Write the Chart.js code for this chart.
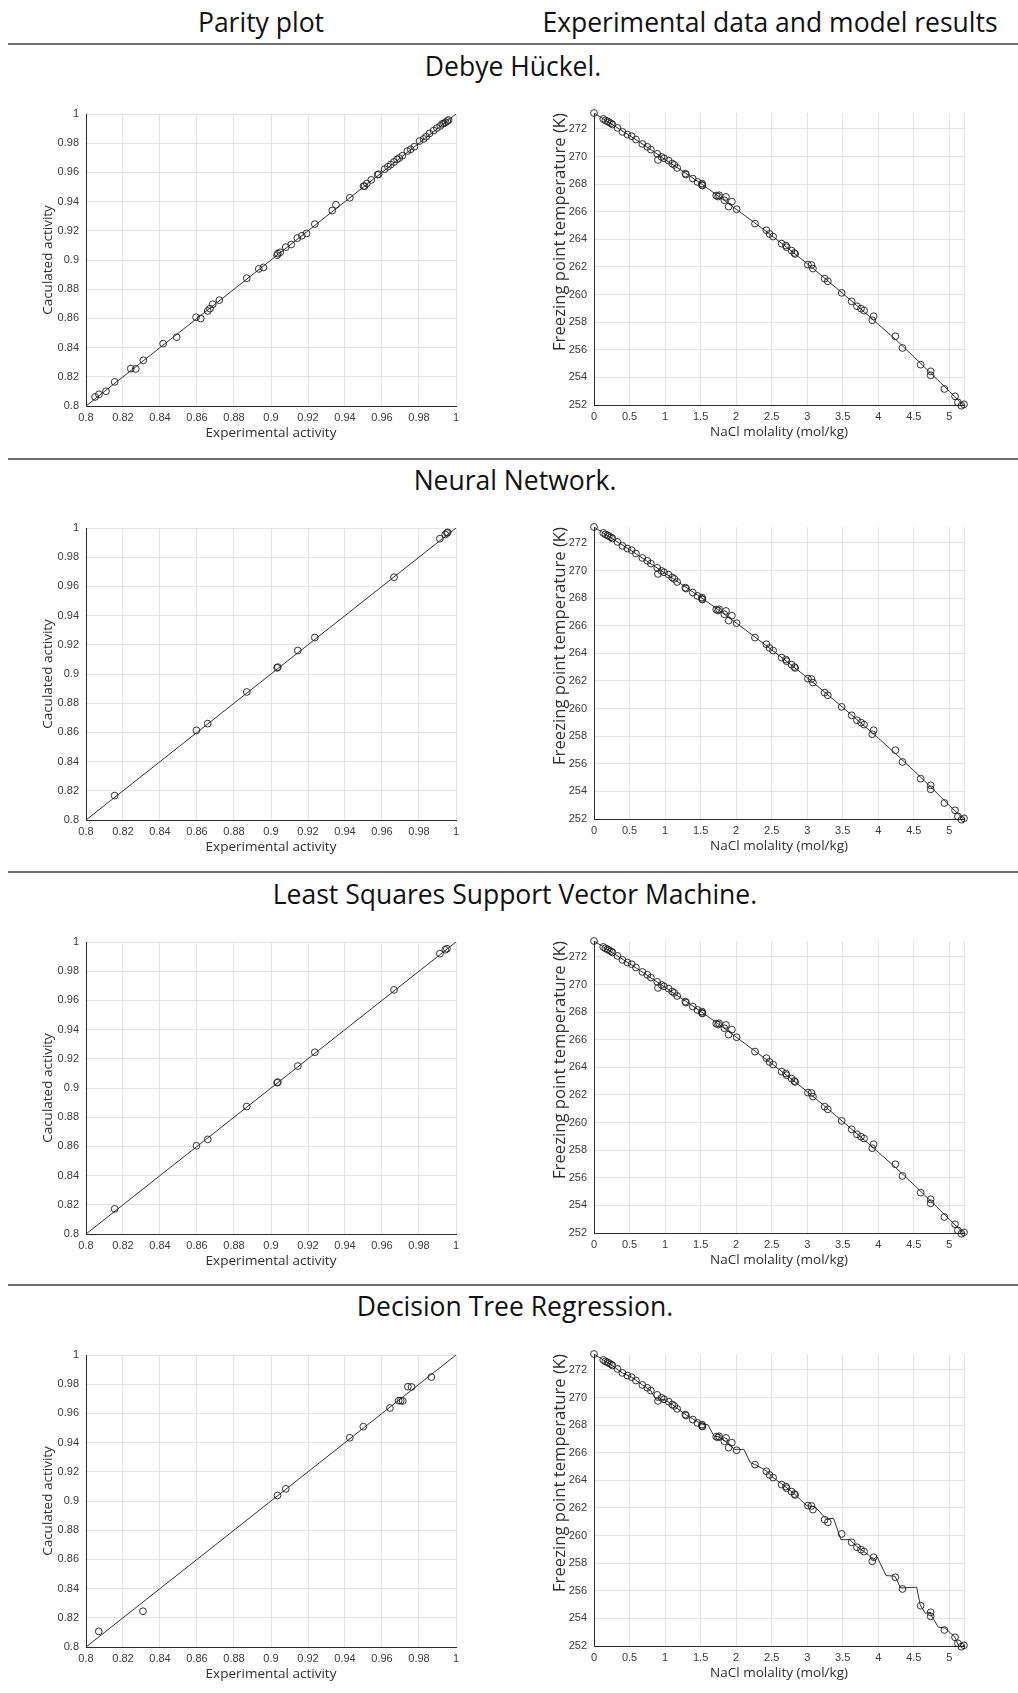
<!DOCTYPE html>
<html><head><meta charset="utf-8">
<script src="https://cdn.jsdelivr.net/npm/chart.js@4.4.1/dist/chart.umd.min.js"></script>
<style>
body{margin:0;width:1018px;height:1693px;position:relative;background:#fff;overflow:hidden;font-family:"Open Sans",sans-serif;}
.hdr{position:absolute;font-size:26.5px;color:#111;white-space:nowrap;transform:translate(-50%,-50%);line-height:1;}
.rule{position:absolute;left:8px;width:1010px;height:0;border-top:2px solid #6e6e6e;}
canvas{position:absolute;}
</style></head>
<body>
<div class="hdr" style="left:261px;top:22px">Parity plot</div>
<div class="hdr" style="left:770px;top:22px">Experimental data and model results</div>
<div class="rule" style="top:43px"></div>
<div class="hdr" style="left:513px;top:66px">Debye Hückel.</div>
<div class="rule" style="top:458px"></div>
<div class="hdr" style="left:515px;top:480px">Neural Network.</div>
<div class="rule" style="top:871px"></div>
<div class="hdr" style="left:515px;top:894px">Least Squares Support Vector Machine.</div>
<div class="rule" style="top:1284px"></div>
<div class="hdr" style="left:515px;top:1306px">Decision Tree Regression.</div>

<canvas id="p1" width="440" height="346" style="left:30px;top:98px"></canvas>
<canvas id="f1" width="483" height="346" style="left:535px;top:97px"></canvas>
<canvas id="p2" width="440" height="346" style="left:30px;top:512px"></canvas>
<canvas id="f2" width="483" height="346" style="left:535px;top:511px"></canvas>
<canvas id="p3" width="440" height="346" style="left:30px;top:926px"></canvas>
<canvas id="f3" width="483" height="346" style="left:535px;top:925px"></canvas>
<canvas id="p4" width="440" height="346" style="left:30px;top:1339px"></canvas>
<canvas id="f4" width="483" height="346" style="left:535px;top:1338px"></canvas>

<script>
// ---------- tick values / labels ----------
const activityTicks = [0.8, 0.82, 0.84, 0.86, 0.88, 0.9, 0.92, 0.94, 0.96, 0.98, 1];
const activityTickLabels = ['0.8','0.82','0.84','0.86','0.88','0.9','0.92','0.94','0.96','0.98','1'];
const molalityTicks = [0, 0.5, 1, 1.5, 2, 2.5, 3, 3.5, 4, 4.5, 5];
const molalityTickLabels = ['0','0.5','1','1.5','2','2.5','3','3.5','4','4.5','5'];
const temperatureTicks = [252, 254, 256, 258, 260, 262, 264, 266, 268, 270, 272];
const temperatureTickLabels = ['252','254','256','258','260','262','264','266','268','270','272'];
const parityLine = [0.8, 1];

// ---------- experimental freezing point data ----------
const molality = [0, 0.13, 0.16, 0.19, 0.21, 0.24, 0.26, 0.33, 0.40, 0.47, 0.53, 0.59, 0.68, 0.75, 0.80, 0.89, 0.90, 0.95, 0.985, 1.05, 1.10, 1.13, 1.17, 1.285, 1.295, 1.39, 1.455, 1.52, 1.52, 1.525, 1.72, 1.745, 1.76, 1.834, 1.857, 1.895, 1.94, 2.007, 2.265, 2.425, 2.47, 2.52, 2.64, 2.70, 2.71, 2.78, 2.82, 2.83, 3.01, 3.06, 3.08, 3.245, 3.29, 3.485, 3.625, 3.70, 3.757, 3.80, 3.915, 3.935, 4.24, 4.34, 4.596, 4.737, 4.737, 4.93, 5.08, 5.12, 5.17, 5.206];
const freezingT = [273.15, 272.72, 272.62, 272.55, 272.48, 272.4, 272.32, 272.07, 271.78, 271.59, 271.47, 271.23, 270.91, 270.7, 270.5, 270.19, 269.75, 269.97, 269.87, 269.7, 269.49, 269.39, 269.17, 268.76, 268.69, 268.4, 268.16, 267.94, 268.04, 267.9, 267.17, 267.1, 267.19, 266.83, 267.07, 266.37, 266.73, 266.18, 265.14, 264.66, 264.39, 264.2, 263.69, 263.55, 263.43, 263.18, 263.01, 262.94, 262.17, 262.14, 261.88, 261.15, 260.96, 260.12, 259.51, 259.15, 258.98, 258.84, 258.14, 258.43, 256.98, 256.13, 254.92, 254.44, 254.15, 253.16, 252.63, 252.19, 251.95, 252.05];

// ---------- model curves ----------
const modelMolality = [0, 0.25, 0.5, 0.75, 1, 1.25, 1.5, 1.75, 2, 2.25, 2.5, 2.75, 3, 3.25, 3.5, 3.75, 4, 4.25, 4.5, 4.75, 5, 5.206];
const dhModelT = [273.15, 272.33, 271.52, 270.67, 269.78, 268.93, 268.06, 267.13, 266.18, 265.24, 264.27, 263.27, 262.24, 261.17, 260.08, 258.97, 257.84, 256.72, 255.49, 254.25, 252.99, 251.95];
const nnModelT = [273.15, 272.32, 271.52, 270.66, 269.8, 268.94, 268.07, 267.15, 266.2, 265.24, 264.26, 263.26, 262.24, 261.17, 260.08, 258.98, 257.86, 256.7, 255.5, 254.26, 252.98, 251.96];
const lssvmModelT = [273.15, 272.33, 271.51, 270.66, 269.79, 268.93, 268.06, 267.14, 266.19, 265.24, 264.27, 263.27, 262.24, 261.17, 260.07, 258.97, 257.85, 256.71, 255.5, 254.26, 252.99, 251.96];
const dtModelM = [0, 0.13, 0.26, 0.40, 0.53, 0.68, 0.80, 0.835, 0.88, 0.985, 1.1, 1.3, 1.52, 1.6, 1.69, 1.76, 1.84, 1.98, 2.11, 2.2, 2.27, 2.43, 2.52, 2.64, 2.83, 2.99, 3.11, 3.27, 3.37, 3.475, 3.60, 3.70, 3.86, 3.93, 3.98, 4.11, 4.235, 4.315, 4.54, 4.59, 4.66, 4.73, 4.75, 4.845, 4.94, 5.08, 5.13, 5.17, 5.206];
const dtModelT = [273.15, 272.72, 272.3, 271.78, 271.47, 270.91, 270.5, 270.16, 269.8, 269.87, 269.49, 268.72, 268.06, 268.04, 267.2, 267.15, 266.85, 266.24, 266.24, 265.27, 265.14, 264.66, 264.2, 263.75, 262.97, 262.17, 262.08, 261.2, 261.25, 259.7, 259.7, 259.2, 258.6, 258.25, 258.49, 257.1, 257.06, 256.2, 256.26, 254.98, 254.37, 254.45, 254.18, 253.36, 253.3, 252.63, 252.0, 251.95, 252.05];

// ---------- parity data ----------
const dhExp = [0.8049, 0.807, 0.8108, 0.8155, 0.8242, 0.8269, 0.831, 0.8417, 0.849, 0.8595, 0.862, 0.8658, 0.867, 0.8685, 0.8721, 0.8869, 0.8934, 0.8959, 0.9033, 0.9037, 0.905, 0.908, 0.9109, 0.9142, 0.9167, 0.9192, 0.9237, 0.9331, 0.9351, 0.9426, 0.95, 0.9506, 0.9518, 0.9542, 0.9576, 0.9582, 0.9614, 0.9632, 0.9647, 0.9665, 0.9681, 0.9693, 0.971, 0.9737, 0.9755, 0.9775, 0.9803, 0.9825, 0.9839, 0.9857, 0.9879, 0.9897, 0.9915, 0.9926, 0.9935, 0.9944, 0.9953, 0.996];
const dhCalc = [0.8062, 0.808, 0.8101, 0.8165, 0.8256, 0.8254, 0.8313, 0.8427, 0.8471, 0.8608, 0.8599, 0.8651, 0.8667, 0.8697, 0.8725, 0.8875, 0.8939, 0.8949, 0.9033, 0.9044, 0.9053, 0.9088, 0.9106, 0.915, 0.9166, 0.9182, 0.9246, 0.9339, 0.9378, 0.9426, 0.9506, 0.9506, 0.9524, 0.9549, 0.9584, 0.9588, 0.9622, 0.9639, 0.9653, 0.9671, 0.9689, 0.9698, 0.9714, 0.9746, 0.9758, 0.9776, 0.9815, 0.9829, 0.9845, 0.9867, 0.9886, 0.9904, 0.9918, 0.9932, 0.9936, 0.9943, 0.9952, 0.9959];
const nnExp = [0.8155, 0.8597, 0.8658, 0.8869, 0.9033, 0.9037, 0.9145, 0.9237, 0.9665, 0.9913, 0.9942, 0.9951, 0.9955];
const nnCalc = [0.8167, 0.8614, 0.866, 0.8877, 0.9042, 0.9047, 0.9161, 0.925, 0.9663, 0.9927, 0.9956, 0.9966, 0.997];
const lssvmExp = [0.8155, 0.8597, 0.8658, 0.8869, 0.9033, 0.9037, 0.9145, 0.9237, 0.9665, 0.9913, 0.9942, 0.9951];
const lssvmCalc = [0.8172, 0.8604, 0.8648, 0.8873, 0.9036, 0.904, 0.915, 0.9245, 0.9672, 0.992, 0.9947, 0.9954];
const dtExp = [0.8069, 0.8308, 0.9035, 0.908, 0.9426, 0.9499, 0.9643, 0.969, 0.9701, 0.9712, 0.974, 0.976, 0.9867];
const dtCalc = [0.8107, 0.8245, 0.9038, 0.9083, 0.9433, 0.9509, 0.9637, 0.9687, 0.9687, 0.9685, 0.9783, 0.9781, 0.9849];

// ---------- helpers ----------
const pairs = (xs, ys) => xs.map((x, i) => ({x: x, y: ys[i]}));
const TICK_FONT = {family: '"Liberation Sans", Arial, sans-serif', size: 11};
const TICK_COLOR = '#3a3a3a';
const TITLE_COLOR = '#303030';
const GRID_COLOR = '#e4e4e4';
const AXIS_COLOR = '#2a2a2a';

function pointSet(data) {
  return {data: data, showLine: false, pointStyle: 'circle', pointRadius: 3.4, pointHoverRadius: 3.4,
          pointBorderWidth: 0.9, pointBorderColor: '#1e1e1e', pointBackgroundColor: 'rgba(0,0,0,0)', clip: false};
}
function lineSet(data) {
  return {data: data, showLine: true, pointRadius: 0, borderColor: '#333333', borderWidth: 1, tension: 0, fill: false};
}
function axis(opts) {
  const vals = opts.ticks, labs = opts.labels, extra = opts.extra;
  return {
    type: 'linear', min: opts.min, max: opts.max, position: opts.position,
    afterBuildTicks: s => {
      const t = vals.map(v => ({value: v}));
      if (extra !== undefined) t.push({value: extra});
      s.ticks = t;
    },
    afterFit: s => { if (opts.position === 'left') s.width = opts.size; else s.height = opts.size; },
    ticks: {autoSkip: false, maxRotation: 0, minRotation: 0, font: TICK_FONT, color: TICK_COLOR,
            padding: opts.position === 'left' ? 7 : 5,
            callback: (v, i) => (i < labs.length ? labs[i] : '')},
    grid: {color: GRID_COLOR, lineWidth: 1, drawTicks: false},
    border: {display: true, color: AXIS_COLOR, width: 1},
    title: {display: true, text: opts.title, color: TITLE_COLOR, align: opts.align || 'center',
            font: {family: '"Open Sans", sans-serif', size: opts.titleSize || 13.5, lineHeight: 1},
            padding: opts.titlePad}
  };
}
const baseOpts = (padRight, xAxis, yAxis) => ({
  responsive: false, animation: false, events: [],
  layout: {padding: {left: 0, top: 16, right: padRight, bottom: 0}},
  plugins: {legend: {display: false}, tooltip: {enabled: false}},
  scales: {x: xAxis, y: yAxis}
});

function parityChart(id, exp, calc) {
  return new Chart(document.getElementById(id), {
    type: 'scatter',
    data: {datasets: [pointSet(pairs(exp, calc)), lineSet(pairs(parityLine, parityLine))]},
    options: baseOpts(14,
      axis({min: 0.8, max: 1, position: 'bottom', ticks: activityTicks, labels: activityTickLabels, size: 38,
            title: 'Experimental activity', titlePad: {top: 0, bottom: 4.5}}),
      axis({min: 0.8, max: 1, position: 'left', ticks: activityTicks, labels: activityTickLabels, size: 56,
            title: 'Caculated activity', titlePad: {top: 11.5, bottom: 0}}))
  });
}
function freezingChart(id, lineM, lineT) {
  return new Chart(document.getElementById(id), {
    type: 'scatter',
    data: {datasets: [pointSet(pairs(molality, freezingT)), lineSet(pairs(lineM, lineT))]},
    options: baseOpts(54,
      axis({min: 0, max: 5.206, position: 'bottom', ticks: molalityTicks, labels: molalityTickLabels, extra: 5.206, size: 38,
            title: 'NaCl molality (mol/kg)', titlePad: {top: 0, bottom: 4.5}}),
      axis({min: 252, max: 273.15, position: 'left', ticks: temperatureTicks, labels: temperatureTickLabels, size: 59,
            title: 'Freezing point temperature (K)', titleSize: 16.7, align: 'end', titlePad: {top: 17, bottom: 0}}))
  });
}

parityChart('p1', dhExp, dhCalc);
freezingChart('f1', modelMolality, dhModelT);
parityChart('p2', nnExp, nnCalc);
freezingChart('f2', modelMolality, nnModelT);
parityChart('p3', lssvmExp, lssvmCalc);
freezingChart('f3', modelMolality, lssvmModelT);
parityChart('p4', dtExp, dtCalc);
freezingChart('f4', dtModelM, dtModelT);
</script>
</body></html>
